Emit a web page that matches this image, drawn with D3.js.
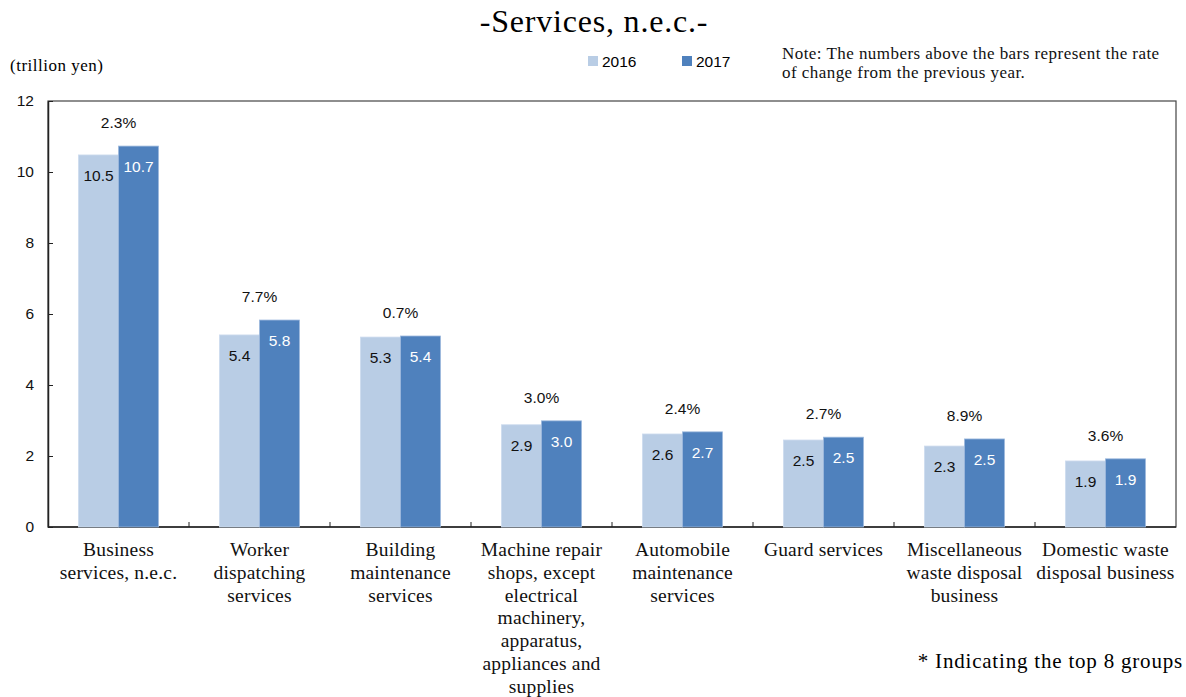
<!DOCTYPE html>
<html><head><meta charset="utf-8">
<script src="https://cdn.jsdelivr.net/npm/d3@7"></script>
<style>body{margin:0;background:#fff}svg{display:block}</style>
</head><body>
<svg id="c" width="1186" height="697"></svg>
<script>
const categories = [
  ["Business","services, n.e.c."],
  ["Worker","dispatching","services"],
  ["Building","maintenance","services"],
  ["Machine repair","shops, except","electrical","machinery,","apparatus,","appliances and","supplies"],
  ["Automobile","maintenance","services"],
  ["Guard services"],
  ["Miscellaneous","waste disposal","business"],
  ["Domestic waste","disposal business"]
];
const values2016 = [10.48, 5.41, 5.35, 2.88, 2.62, 2.45, 2.28, 1.86];
const values2017 = [10.73, 5.83, 5.38, 2.99, 2.68, 2.53, 2.48, 1.92];
const labels2016 = ["10.5","5.4","5.3","2.9","2.6","2.5","2.3","1.9"];
const labels2017 = ["10.7","5.8","5.4","3.0","2.7","2.5","2.5","1.9"];
const rates = ["2.3%","7.7%","0.7%","3.0%","2.4%","2.7%","8.9%","3.6%"];
const yTicks = [0,2,4,6,8,10,12];
const seriesNames = ["2016","2017"];
const colors = ["#B9CDE5","#4F81BD"];

const svg = d3.select("#c");
const L=48, R=1176, T=101, B=527;
const serif = "'Liberation Serif','Times New Roman',serif";
const sans = "'Liberation Sans',Arial,sans-serif";

const x = d3.scaleBand().domain(d3.range(categories.length)).range([L,R]).padding(0);
const y = d3.scaleLinear().domain([0,12]).range([B,T]);
const barW = 40;

// title
svg.append("text").attr("x",594).attr("y",32).attr("text-anchor","middle")
  .style("font-family",serif).style("font-size","32px").style("letter-spacing","0.8px").text("-Services, n.e.c.-");
svg.append("text").attr("x",10).attr("y",71).style("font-family",serif).style("font-size","17px").style("letter-spacing","0.5px").text("(trillion yen)");
// note
const note = svg.append("text").style("font-family",serif).style("font-size","17px").style("letter-spacing","0.45px").attr("fill","#111");
note.append("tspan").attr("x",782).attr("y",59).text("Note: The numbers above the bars represent the rate");
note.append("tspan").attr("x",782).attr("y",78).text("of change from the previous year.");
svg.append("text").attr("x",1183).attr("y",668).attr("text-anchor","end")
  .style("font-family",serif).style("font-size","21px").style("letter-spacing","0.8px").text("* Indicating the top 8 groups");

// legend
const legX=[588,682];
seriesNames.forEach((s,i)=>{
  svg.append("rect").attr("x",legX[i]).attr("y",56).attr("width",10).attr("height",10).attr("fill",colors[i]);
  svg.append("text").attr("x",legX[i]+14).attr("y",67).style("font-family",sans).style("font-size","15.5px").text(s);
});

// frame
svg.append("rect").attr("x",L).attr("y",T).attr("width",R-L).attr("height",B-T)
  .attr("fill","none").attr("stroke","#444").attr("stroke-width",1.2);

// y axis
const yAxis = svg.append("g").attr("transform",`translate(${L},0)`)
  .call(d3.axisLeft(y).tickValues(yTicks).tickSize(-5).tickSizeOuter(0).tickFormat(d3.format("d")));
yAxis.select(".domain").attr("stroke","#222").attr("stroke-width",1.5);
yAxis.selectAll(".tick line").attr("stroke","#222");
yAxis.selectAll("text").style("font-family",sans).style("font-size","15.5px").attr("fill","#111").attr("x",-14);

// x axis with ticks at boundaries
svg.append("line").attr("x1",L).attr("x2",R).attr("y1",B).attr("y2",B).attr("stroke","#222").attr("stroke-width",1.5);
d3.range(1,categories.length).forEach(i=>{
  const bx = x(i);
  svg.append("line").attr("x1",bx).attr("x2",bx).attr("y1",B).attr("y2",B-5).attr("stroke","#222");
});

// bars
const g = svg.append("g");
const series=[values2016, values2017];
series.forEach((vals,si)=>{
  g.selectAll(null).data(vals).enter().append("rect")
    .attr("x",(d,i)=>x(i)+x.bandwidth()/2-barW+si*barW)
    .attr("y",d=>y(d)).attr("width",barW).attr("height",d=>B-y(d))
    .attr("fill",colors[si]).attr("stroke",si===1?"#9DB9DD":"#CDDBEE").attr("stroke-width",0.8);
});
// value labels
const vlabels=[labels2016,labels2017];
vlabels.forEach((labs,si)=>{
  g.selectAll(null).data(labs).enter().append("text")
    .attr("x",(d,i)=>x(i)+x.bandwidth()/2-barW/2+si*barW)
    .attr("y",(d,i)=>y(series[si][i])+26)
    .attr("text-anchor","middle").style("font-family",sans).style("font-size","15.5px")
    .attr("fill",si===0?"#111":"#fff").text(d=>d);
});
// rate labels
g.selectAll(null).data(rates).enter().append("text")
  .attr("x",(d,i)=>x(i)+x.bandwidth()/2)
  .attr("y",(d,i)=>y(Math.max(values2016[i],values2017[i]))-18)
  .attr("text-anchor","middle").style("font-family",sans).style("font-size","15.5px").attr("fill","#111").text(d=>d);

// category labels
categories.forEach((lines,i)=>{
  const t = svg.append("text").attr("text-anchor","middle").style("font-family",serif).style("font-size","19.5px")
    .style("letter-spacing","0.2px").attr("fill","#111");
  lines.forEach((ln,j)=>{
    t.append("tspan").attr("x",x(i)+x.bandwidth()/2).attr("y",556+j*22.8).text(ln);
  });
});
</script>
</body></html>
